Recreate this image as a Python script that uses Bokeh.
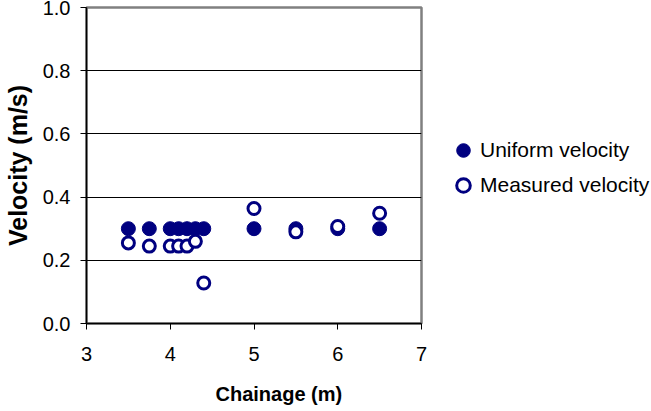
from bokeh.plotting import figure
from bokeh.models import Range1d, FixedTicker, NumeralTickFormatter, Legend, LegendItem, Title
from bokeh.embed import file_html
from bokeh.resources import INLINE

chainage = [3.5, 3.75, 4.0, 4.1, 4.2, 4.3, 4.4, 5.0, 5.5, 6.0, 6.5]
uniform_velocity = [0.30, 0.30, 0.30, 0.30, 0.30, 0.30, 0.30, 0.30, 0.30, 0.30, 0.30]
measured_velocity = [0.255, 0.245, 0.245, 0.245, 0.245, 0.26, 0.128, 0.364, 0.29, 0.307, 0.349]
x_ticks = [3, 4, 5, 6, 7]
y_ticks = [0.0, 0.2, 0.4, 0.6, 0.8, 1.0]

FONT = "Liberation Sans"
NAVY = "#000080"

p = figure(width=635, height=395, output_backend="svg", toolbar_location=None,
           x_range=Range1d(3, 7), y_range=Range1d(0, 1),
           min_border_left=80, min_border_right=226, min_border_top=7, min_border_bottom=80)
p.frame_width = 335
p.frame_height = 316
p.background_fill_color = "white"
p.border_fill_color = "white"
p.outline_line_color = "#808080"
p.outline_line_width = 2.5

p.xgrid.visible = False
p.ygrid.grid_line_color = "black"
p.ygrid.grid_line_width = 1
p.ygrid.ticker = FixedTicker(ticks=y_ticks)

for ax in (p.xaxis[0], p.yaxis[0]):
    ax.major_label_text_font = FONT
    ax.major_label_text_font_size = "20px"
    ax.major_label_text_color = "black"
    ax.axis_label_text_font = FONT
    ax.axis_label_text_font_style = "bold"
    ax.axis_label_text_color = "black"
    ax.major_tick_in = 0
    ax.major_tick_out = 6
    ax.minor_tick_in = 0
    ax.minor_tick_out = 0
    ax.major_tick_line_color = "black"
    ax.axis_line_color = "black"
    ax.axis_line_width = 1.5

p.xaxis.ticker = FixedTicker(ticks=x_ticks)
p.yaxis.ticker = FixedTicker(ticks=y_ticks)
p.yaxis.formatter = NumeralTickFormatter(format="0.0")
p.yaxis.axis_label = "Velocity (m/s)"
p.yaxis.axis_label_text_font_size = "25px"
p.xaxis.major_label_standoff = 17
p.yaxis.major_label_standoff = 10
p.yaxis.axis_label_standoff = 8

xtitle = Title(text="Chainage (m)", align="left", offset=129,
               text_font=FONT, text_font_size="20px", text_font_style="bold",
               text_color="black", standoff=34)
p.add_layout(xtitle, "below")

r_uni = p.scatter(chainage, uniform_velocity, marker="circle", size=14,
                  fill_color=NAVY, line_color=NAVY, line_width=1)
r_mea = p.scatter(chainage, measured_velocity, marker="circle", size=12,
                  fill_color="white", line_color=NAVY, line_width=3)

legend = Legend(items=[LegendItem(label="Uniform velocity", renderers=[r_uni]),
                       LegendItem(label="Measured velocity", renderers=[r_mea])],
                location=(25, 121))
legend.label_text_font = FONT
legend.label_text_font_size = "21px"
legend.label_text_color = "black"
legend.border_line_color = None
legend.background_fill_color = None
legend.background_fill_alpha = 0
legend.glyph_width = 34
legend.glyph_height = 34
legend.label_height = 34
legend.label_standoff = -6
legend.spacing = 1
legend.padding = 0
legend.margin = 0
p.add_layout(legend, "right")

open("out.html", "w").write(file_html(p, INLINE))
